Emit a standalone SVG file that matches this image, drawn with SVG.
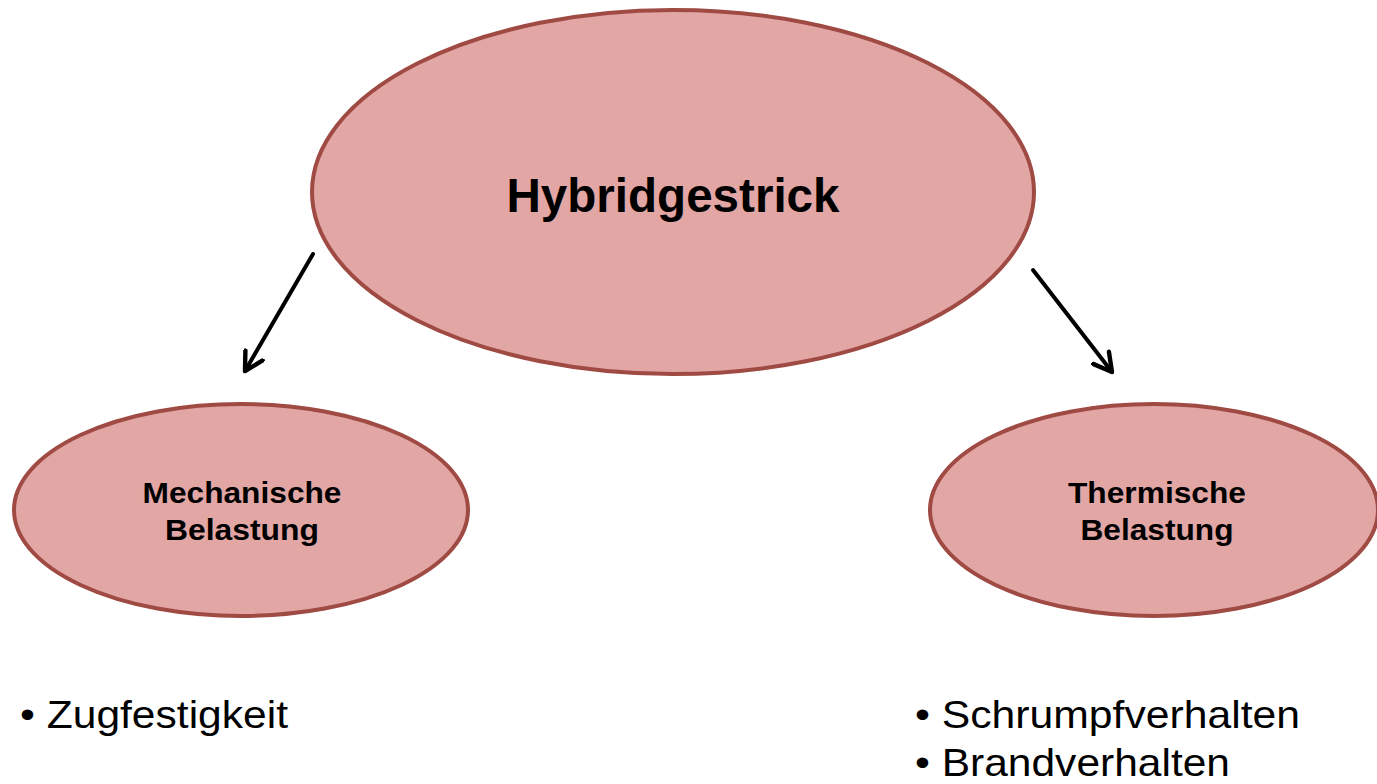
<svg xmlns="http://www.w3.org/2000/svg" width="1377" height="784" viewBox="0 0 1377 784">
<style>
.node{fill:#e2a6a5;stroke:#a04a44;stroke-width:4}
.t{font-family:"Liberation Sans",Arial,sans-serif;font-weight:bold;fill:#000;text-anchor:middle}
.b{font-family:"Liberation Sans",Arial,sans-serif;fill:#000;font-size:39px}
.c{stroke:#000;stroke-width:4;fill:none;stroke-linecap:round}
</style>
<defs>
<marker id="ah" viewBox="0 0 12 12" refX="10" refY="6" markerWidth="6" markerHeight="6" orient="auto" markerUnits="strokeWidth">
<path d="M1,1 L10,6 L1,11" fill="none" stroke="#000" stroke-width="2.2" stroke-linecap="round" stroke-linejoin="round"/>
</marker>
</defs>
<rect width="1377" height="784" fill="#fff"/>
<g id="connectors">
<line class="c" x1="313" y1="254" x2="245" y2="371" marker-end="url(#ah)"/>
<line class="c" x1="1033" y1="270" x2="1112" y2="372" marker-end="url(#ah)"/>
</g>
<g id="hybridgestrick">
<ellipse class="node" cx="673" cy="192" rx="361" ry="182"/>
<text class="t" x="673" y="212" font-size="48" textLength="333" lengthAdjust="spacingAndGlyphs">Hybridgestrick</text>
</g>
<g id="mechanisch">
<ellipse class="node" cx="241" cy="510" rx="227" ry="106"/>
<text class="t" x="242" y="503" font-size="30" textLength="199" lengthAdjust="spacingAndGlyphs">Mechanische</text>
<text class="t" x="242" y="540" font-size="30" textLength="154" lengthAdjust="spacingAndGlyphs">Belastung</text>
</g>
<g id="thermisch">
<ellipse class="node" cx="1154" cy="510" rx="224" ry="106"/>
<text class="t" x="1157" y="503" font-size="30" textLength="178" lengthAdjust="spacingAndGlyphs">Thermische</text>
<text class="t" x="1157" y="540" font-size="30" textLength="153" lengthAdjust="spacingAndGlyphs">Belastung</text>
</g>
<g id="list-left">
<text class="b" x="20" y="728" textLength="268" lengthAdjust="spacingAndGlyphs">• Zugfestigkeit</text>
</g>
<g id="list-right">
<text class="b" x="915" y="728" textLength="385" lengthAdjust="spacingAndGlyphs">• Schrumpfverhalten</text>
<text class="b" x="915" y="776" textLength="315" lengthAdjust="spacingAndGlyphs">• Brandverhalten</text>
</g>
</svg>
